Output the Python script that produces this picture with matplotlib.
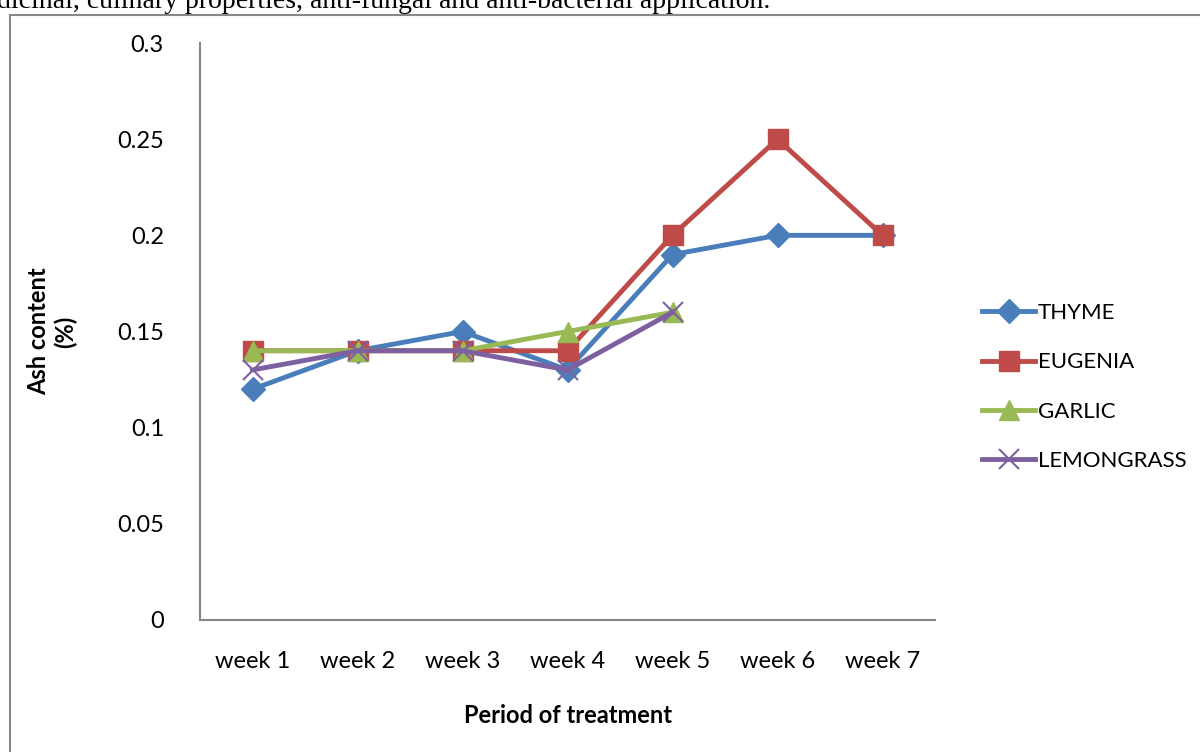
import matplotlib.pyplot as plt
from matplotlib.lines import Line2D

weeks = ['week 1', 'week 2', 'week 3', 'week 4', 'week 5', 'week 6', 'week 7']
thyme = [0.12, 0.14, 0.15, 0.13, 0.19, 0.20, 0.20]
eugenia = [0.14, 0.14, 0.14, 0.14, 0.20, 0.25, 0.20]
garlic = [0.14, 0.14, 0.14, 0.15, 0.16]
lemongrass = [0.13, 0.14, 0.14, 0.13, 0.16]

plt.rcParams['font.family'] = ['Lato', 'DejaVu Sans']

W, H = 1200, 752
fig = plt.figure(figsize=(12, 7.52), dpi=100)
ax = fig.add_axes([200 / W, 1 - 620 / H, 735 / W, 577 / H])

x = range(len(weeks))
ax.plot(x, thyme, color='#4A7EBB', lw=3.5, marker='D', ms=12, label='THYME')
ax.plot(x, eugenia, color='#BE4B48', lw=3.5, marker='s', ms=14, label='EUGENIA')
ax.plot(range(len(garlic)), garlic, color='#98B954', lw=3.5, marker='^', ms=14, label='GARLIC')
ax.plot(range(len(lemongrass)), lemongrass, color='#7D60A0', lw=3.5, marker='x', ms=14,
        mew=1.5, label='LEMONGRASS')

ax.set_xlim(-0.5, len(weeks) - 0.5)
ax.set_ylim(0, 0.3)
ax.set_xticks(list(x))
ax.set_xticklabels(weeks)
ax.set_yticks([0, 0.05, 0.1, 0.15, 0.2, 0.25, 0.3])
ax.set_yticklabels(['0', '0.05', '0.1', '0.15', '0.2', '0.25', '0.3'])
ax.tick_params(length=0, labelsize=17, colors='black')
ax.tick_params(axis='y', pad=26)
ax.tick_params(axis='x', pad=22)

for s in ['top', 'right']:
    ax.spines[s].set_visible(False)
for s in ['left', 'bottom']:
    ax.spines[s].set_color('#868686')
    ax.spines[s].set_linewidth(1.5)

ax.set_xlabel('Period of treatment', fontsize=17, fontweight='bold')
ax.xaxis.set_label_coords(0.5, -84 / 577)
ax.set_ylabel('Ash content\n(%)', fontsize=17, fontweight='bold', linespacing=1.15)
ax.yaxis.set_label_coords(-123 / 735, 0.5)

ax.legend(loc='center left', bbox_to_anchor=(962 / W, 1 - 387 / H), bbox_transform=fig.transFigure,
          frameon=False, fontsize=16, handlelength=2.4, handletextpad=0.1, labelspacing=1.32)

# outer frame
fig.add_artist(Line2D([10 / W, 10 / W], [1 - 15 / H, 0], color='#888888', lw=1.5))
fig.add_artist(Line2D([10 / W, 1], [1 - 15 / H, 1 - 15 / H], color='#888888', lw=1.5))

fig.text(-3 / W, 1 - 8 / H, 'dicinal, culinary properties, anti-fungal and anti-bacterial application.',
         family='Liberation Serif', fontsize=20, va='baseline', ha='left')

fig.savefig('out.png', dpi=100)
